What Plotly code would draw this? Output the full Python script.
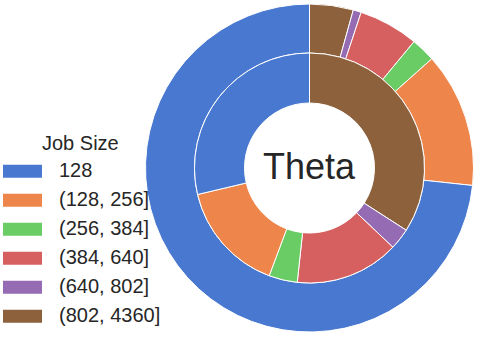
import plotly.graph_objects as go

# ---- data ----
categories = ["128", "(128, 256]", "(256, 384]", "(384, 640]", "(640, 802]", "(802, 4360]"]
outer_values = [73.3, 13.3, 2.4, 5.9, 0.8, 4.3]
inner_values = [28.7, 15.6, 4.0, 14.6, 3.0, 34.1]
colors = ["#4878d0", "#ee854a", "#6acc64", "#d65f5f", "#956cb4", "#8c613c"]
center_label = "Theta"
legend_title = "Job Size"

W, H = 477, 337
FONT = "Liberation Sans, Arial, sans-serif"

def px(x):
    return x / W

def py(y):
    return 1 - y / H

cx, cy = 309.5, 168.0
r_out, r_mid, r_in = 164.0, 115.0, 65.0

# pie draws clockwise from top in reverse category order
order = list(range(len(categories)))[::-1]

def pie(values, r, hole):
    return go.Pie(
        labels=[categories[i] for i in order],
        values=[values[i] for i in order],
        marker=dict(colors=[colors[i] for i in order], line=dict(color="white", width=1)),
        sort=False,
        direction="clockwise",
        rotation=0,
        hole=hole,
        textinfo="none",
        showlegend=False,
        domain=dict(x=[px(cx - r), px(cx + r)], y=[py(cy + r), py(cy - r)]),
    )

fig = go.Figure()
fig.add_trace(pie(outer_values, r_out, r_mid / r_out))
fig.add_trace(pie(inner_values, r_mid, r_in / r_mid))

annotations = [
    dict(text=center_label, x=px(cx), y=py(cy - 2), xref="paper", yref="paper",
         showarrow=False, xanchor="center", yanchor="middle",
         font=dict(family=FONT, size=36, color="#262626")),
    dict(text=legend_title, x=px(80), y=py(143), xref="paper", yref="paper",
         showarrow=False, xanchor="center", yanchor="middle",
         font=dict(family=FONT, size=20, color="#262626")),
]
shapes = []
row0, step = 171.3, 29.0
for k, (cat, col) in enumerate(zip(categories, colors)):
    yc = row0 + k * step
    shapes.append(dict(type="rect", xref="paper", yref="paper",
                       x0=px(3), x1=px(42), y0=py(yc + 6.5), y1=py(yc - 6.5),
                       fillcolor=col, line=dict(width=0)))
    annotations.append(dict(text=cat, x=px(57), y=py(yc - 1), xref="paper", yref="paper",
                            showarrow=False, xanchor="left", yanchor="middle",
                            font=dict(family=FONT, size=20, color="#262626")))

fig.update_layout(
    width=W, height=H,
    margin=dict(l=0, r=0, t=0, b=0),
    paper_bgcolor="white", plot_bgcolor="white",
    annotations=annotations, shapes=shapes,
    showlegend=False,
)
fig.write_html("out.html", config={"displayModeBar": False},
               post_script="document.body.style.margin='0';")
